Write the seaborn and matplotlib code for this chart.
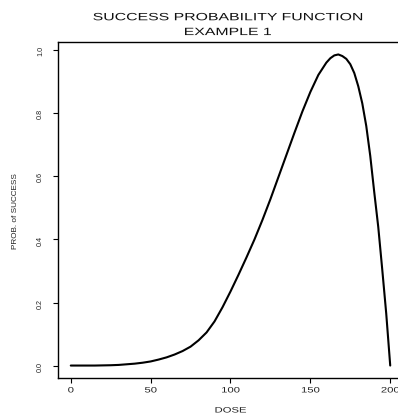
import matplotlib
matplotlib.use("Agg")
import matplotlib.pyplot as plt
import matplotlib.patheffects as pe
from matplotlib.transforms import Affine2D
import seaborn as sns
import pandas as pd

# Dose grid and probability of success at each dose
dose = [0, 5, 10, 15, 20, 25, 30, 35, 40, 45, 50, 55, 60, 65, 70, 75, 80, 85,
        90, 95, 100, 105, 110, 115, 120, 125, 130, 135, 140, 145, 150, 155,
        160, 162.5, 165, 167.5, 170, 172.5, 175, 177.5, 180, 182.5, 185,
        187.5, 190, 192.5, 195, 197.5, 200]
prob_success = [0.0, 0.0, 0.0, 0.0, 0.0005, 0.001, 0.002, 0.004, 0.006, 0.009,
                0.013, 0.019, 0.026, 0.035, 0.046, 0.060, 0.080, 0.105,
                0.140, 0.185, 0.235, 0.288, 0.343, 0.400, 0.462, 0.528, 0.598,
                0.668, 0.738, 0.806, 0.868, 0.922, 0.961, 0.975, 0.984, 0.987,
                0.982, 0.973, 0.956, 0.928, 0.886, 0.832, 0.760, 0.665, 0.550,
                0.440, 0.305, 0.165, 0.0]

x_ticks = [0, 50, 100, 150, 200]
y_ticks = [0.0, 0.2, 0.4, 0.6, 0.8, 1.0]
y_tick_labels = ["0.0", "0.2", "0.4", "0.6", "0.8", "1.0"]

df = pd.DataFrame({"DOSE": dose, "PROB": prob_success})


class StretchX(pe.AbstractPathEffect):
    """Widen horizontal text glyphs about a fixed display x position."""

    def __init__(self, sx, cx):
        super().__init__()
        self.sx = sx
        self.cx = cx

    def draw_path(self, renderer, gc, tpath, affine, rgbFace=None):
        t = affine + Affine2D().translate(-self.cx, 0).scale(self.sx, 1).translate(self.cx, 0)
        renderer.draw_path(gc, tpath, t, rgbFace)


sns.set_theme(style="white")
plt.rcParams["font.family"] = ["Liberation Sans", "DejaVu Sans"]

W, H = 398, 414
DPI = 100
fig = plt.figure(figsize=(W / DPI, H / DPI), dpi=DPI)
fig.patch.set_facecolor("white")
ax = fig.add_axes([58 / W, (H - 379) / H, (403 - 58) / W, (379 - 43) / H])

sns.lineplot(data=df, x="DOSE", y="PROB", ax=ax, color="black", linewidth=1.5)

ax.set_xlim(-8, 208)
ax.set_ylim(-0.0395, 1.0265)

for s in ax.spines.values():
    s.set_visible(True)
    s.set_color("black")
    s.set_linewidth(1.0)

ax.set_xticks(x_ticks)
ax.set_xticklabels([str(t) for t in x_ticks])
ax.set_yticks(y_ticks)
ax.set_yticklabels(y_tick_labels, rotation=90, va="center")

ax.tick_params(axis="both", which="both", direction="out", length=3.6,
               width=0.8, color="black", labelcolor="#222222",
               left=True, bottom=True)
ax.tick_params(axis="x", pad=3.2, labelsize=5.6)
ax.tick_params(axis="y", pad=6.5, labelsize=5.2)

# horizontal labels are drawn wide
for lbl, t in zip(ax.get_xticklabels(), x_ticks):
    cx = ax.transData.transform((t, 0))[0]
    lbl.set_path_effects([StretchX(1.45, cx)])

ax.set_xlabel("DOSE", fontsize=5.6, color="#222222", va="center")
ax.xaxis.set_label_coords(0.5, (379 - 412) / 336)
ax.xaxis.label.set_path_effects([StretchX(1.45, 230.5)])

ax.set_ylabel("PROB. of SUCCESS", fontsize=5.9, color="#222222", va="center")
ax.yaxis.set_label_coords((15.5 - 58) / 345, 0.5)

title_x = 227.5
ax.set_title("SUCCESS PROBABILITY FUNCTION\nEXAMPLE 1", fontsize=7.6,
             color="#111111", linespacing=1.6, pad=5.0,
             x=(title_x - 58) / 345)
ax.title.set_path_effects([StretchX(1.5, title_x)])

ax.grid(False)
fig.savefig("out.png", dpi=DPI)
